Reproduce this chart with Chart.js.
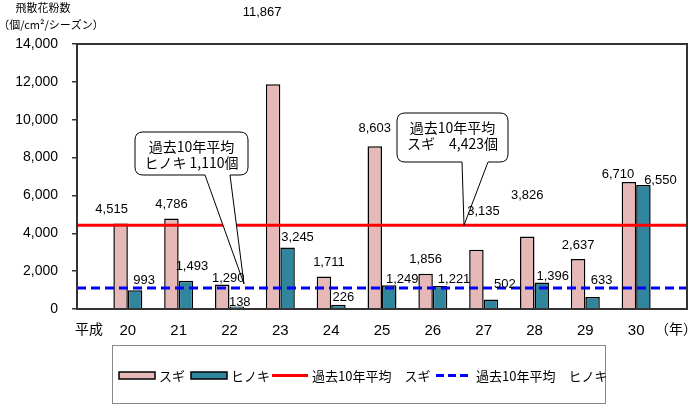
<!DOCTYPE html>
<html lang="ja">
<head>
<meta charset="utf-8">
<script src="https://cdn.jsdelivr.net/npm/chart.js@4.4.1/dist/chart.umd.min.js"></script>
<style>
  html, body { margin: 0; padding: 0; background: #fff; }
  #wrap { width: 700px; height: 410px; }
</style>
</head>
<body>
<div id="wrap"><canvas id="pollenChart" width="700" height="410"></canvas></div>
<script>
// Data (empty first/last slots keep the Excel-like margin at both ends)
const yearLabels = ['', '20', '21', '22', '23', '24', '25', '26', '27', '28', '29', '30', ''];
const sugiCounts = [null, 4515, 4786, 1290, 11867, 1711, 8603, 1856, 3135, 3826, 2637, 6710, null];
const hinokiCounts = [null, 993, 1493, 138, 3245, 226, 1249, 1221, 502, 1396, 633, 6550, null];
const sugiAvg = 4423;
const hinokiAvg = 1110;
const yMax = 14000;
const yStep = 2000;

const seriesNames = ['スギ', 'ヒノキ', '過去10年平均　スギ', '過去10年平均　ヒノキ'];

// Colours
const PINK = '#E6B9B8';
const TEAL = '#31859C';
const RED = '#FF0000';
const BLUE = '#0000FF';

const NUM_FONT = '"Liberation Sans", Arial, sans-serif';
const JP_FONT = '"Noto Sans CJK JP", "Noto Sans", sans-serif';

const fmt = (v) => v.toLocaleString('en-US');

// hand-placed labels as in the original, "dataset:index" -> [dx, dy] from default spot
const labelNudge = {
    '0:1': [-9, 0],
    '0:3': [6, 8],
    '0:4': [-11, -58],
    '0:5': [5, 0],
    '0:6': [0, -4],
    '0:8': [7, -24],
    '0:9': [0, -27],
    '0:11': [-11, 6],
    '1:2': [-3, -4],
    '1:3': [-6, 6],
    '1:4': [1, 0],
    '1:5': [-4, 3],
    '1:6': [4, 4],
    '1:7': [5, 4],
    '1:8': [5, -5],
    '1:9': [2, 4],
    '1:10': [0, -7],
    '1:11': [8, 5]
};

// Plugins
const whiteBg = {
    id: 'whiteBg',
    beforeDraw: (chart) => {
        const { ctx, width, height } = chart;
        ctx.save();
        ctx.fillStyle = '#fff';
        ctx.fillRect(0, 0, width, height);
        ctx.restore();
    }
};

const drawCallout = (ctx, box, tail, lines) => {
    const { x, y, w, h, r } = box;
    ctx.beginPath();
    ctx.moveTo(x + r, y);
    ctx.lineTo(x + w - r, y);
    ctx.quadraticCurveTo(x + w, y, x + w, y + r);
    ctx.lineTo(x + w, y + h - r);
    ctx.quadraticCurveTo(x + w, y + h, x + w - r, y + h);
    ctx.lineTo(tail.x2, y + h);
    ctx.lineTo(tail.tipX, tail.tipY);
    ctx.lineTo(tail.x1, y + h);
    ctx.lineTo(x + r, y + h);
    ctx.quadraticCurveTo(x, y + h, x, y + h - r);
    ctx.lineTo(x, y + r);
    ctx.quadraticCurveTo(x, y, x + r, y);
    ctx.closePath();
    ctx.fillStyle = '#fff';
    ctx.fill();
    ctx.lineWidth = 1;
    ctx.strokeStyle = '#000';
    ctx.stroke();

    ctx.fillStyle = '#000';
    ctx.font = '14px ' + JP_FONT;
    ctx.textAlign = 'center';
    ctx.textBaseline = 'middle';
    lines.forEach((t, i) => ctx.fillText(t, x + w / 2, y + 15 + i * 16));
};

const decorations = {
    id: 'decorations',
    afterDatasetsDraw: (chart) => {
        const { ctx, chartArea: area, scales } = chart;
        ctx.save();

        // plot frame
        ctx.strokeStyle = '#333';
        ctx.lineWidth = 2;
        ctx.strokeRect(area.left, area.top, area.right - area.left, area.bottom - area.top);

        // callouts
        const ySugi = scales.y.getPixelForValue(sugiAvg);
        const yHinoki = scales.y.getPixelForValue(hinokiAvg);
        drawCallout(ctx, { x: 135, y: 132, w: 113, h: 43, r: 8 },
            { x1: 205, x2: 230, tipX: 244, tipY: yHinoki - 4 },
            ['過去10年平均', 'ヒノキ 1,110個']);
        drawCallout(ctx, { x: 397, y: 113, w: 111, h: 49, r: 8 },
            { x1: 462, x2: 488, tipX: 464, tipY: ySugi },
            ['過去10年平均', 'スギ　4,423個']);

        // value labels
        ctx.fillStyle = '#000';
        ctx.font = '13px ' + NUM_FONT;
        ctx.textAlign = 'center';
        ctx.textBaseline = 'middle';
        [0, 1].forEach((di) => {
            const meta = chart.getDatasetMeta(di);
            const values = chart.data.datasets[di].data;
            meta.data.forEach((bar, i) => {
                if (values[i] == null) return;
                const nudge = labelNudge[di + ':' + i] || [0, 0];
                const dx = di === 0 ? 0 : 9;
                const dy = di === 0 ? 14 : 10;
                ctx.fillText(fmt(values[i]), bar.x + dx + nudge[0], bar.y - dy + nudge[1]);
            });
        });

        // axis captions
        ctx.fillStyle = '#000';
        ctx.textAlign = 'center';
        ctx.font = '11px ' + JP_FONT;
        ctx.fillText('飛散花粉数', 43, 8);
        ctx.fillText('（個/cm²/シーズン）', 51, 25);
        ctx.font = '14px ' + JP_FONT;
        ctx.fillText('平成', 89, 329);
        ctx.textAlign = 'left';
        ctx.fillText('（年）', 655, 329);

        // legend
        ctx.strokeStyle = '#888';
        ctx.lineWidth = 1;
        ctx.strokeRect(112.5, 345.5, 493, 58);
        const ly = 375;
        const items = [
            { x: 119, kind: 'box', color: PINK },
            { x: 191, kind: 'box', color: TEAL },
            { x: 272, kind: 'line', color: RED, dash: [] },
            { x: 436, kind: 'line', color: BLUE, dash: [8, 4] }
        ];
        ctx.font = '13px ' + JP_FONT;
        ctx.textAlign = 'left';
        items.forEach((it, i) => {
            if (it.kind === 'box') {
                ctx.fillStyle = it.color;
                ctx.fillRect(it.x, ly - 3, 36, 7);
                ctx.strokeStyle = '#000';
                ctx.lineWidth = 1.5;
                ctx.setLineDash([]);
                ctx.strokeRect(it.x, ly - 3, 36, 7);
            } else {
                ctx.strokeStyle = it.color;
                ctx.lineWidth = 3;
                ctx.setLineDash(it.dash);
                ctx.beginPath();
                ctx.moveTo(it.x, ly + 0.5);
                ctx.lineTo(it.x + 36, ly + 0.5);
                ctx.stroke();
                ctx.setLineDash([]);
            }
            ctx.fillStyle = '#000';
            ctx.fillText(seriesNames[i], it.x + 40, ly + 1);
        });

        ctx.restore();
    }
};

// Chart
const ctx = document.getElementById('pollenChart').getContext('2d');
new Chart(ctx, {
    data: {
        labels: yearLabels,
        datasets: [
            {
                type: 'bar',
                label: seriesNames[0],
                data: sugiCounts,
                backgroundColor: PINK,
                borderColor: '#000',
                borderWidth: 1.5,
                categoryPercentage: 0.57,
                barPercentage: 1.0,
                order: 2
            },
            {
                type: 'bar',
                label: seriesNames[1],
                data: hinokiCounts,
                backgroundColor: TEAL,
                borderColor: '#000',
                borderWidth: 1.5,
                categoryPercentage: 0.57,
                barPercentage: 1.0,
                order: 2
            },
            {
                type: 'line',
                label: seriesNames[2],
                data: yearLabels.map(() => sugiAvg),
                borderColor: RED,
                borderWidth: 3,
                pointRadius: 0,
                order: 1
            },
            {
                type: 'line',
                label: seriesNames[3],
                data: yearLabels.map(() => hinokiAvg),
                borderColor: BLUE,
                borderWidth: 3,
                borderDash: [9, 5],
                pointRadius: 0,
                order: 1
            }
        ]
    },
    options: {
        responsive: false,
        animation: false,
        devicePixelRatio: 1,
        layout: { padding: { top: 44, right: 6, bottom: 65, left: 0 } },
        scales: {
            x: {
                type: 'category',
                offset: false,
                grid: { display: false, drawTicks: false },
                border: { display: false },
                ticks: {
                    autoSkip: false,
                    maxRotation: 0,
                    padding: 13,
                    color: '#000',
                    font: { family: NUM_FONT, size: 15 }
                },
                afterFit: (scale) => { scale.height = 36; }
            },
            y: {
                min: 0,
                max: yMax,
                ticks: {
                    stepSize: yStep,
                    padding: 14,
                    color: '#000',
                    font: { family: NUM_FONT, size: 14 },
                    callback: (v) => fmt(v)
                },
                grid: { drawOnChartArea: false, drawTicks: true, tickLength: 5, color: '#333', lineWidth: 1.5 },
                border: { display: false },
                afterFit: (scale) => { scale.width = 77; }
            }
        },
        plugins: {
            legend: { display: false },
            tooltip: { enabled: false }
        }
    },
    plugins: [whiteBg, decorations]
});
</script>
</body>
</html>
